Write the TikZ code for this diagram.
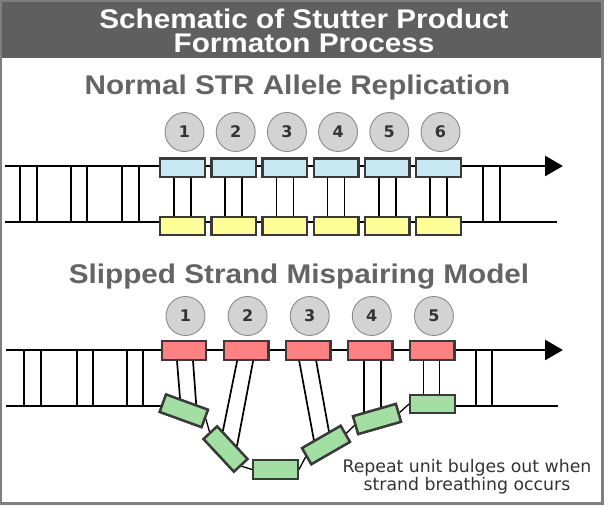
\documentclass[tikz,border=0pt]{standalone}
\usepackage{fontspec}
\setmainfont{DejaVu Sans}
\newfontfamily\titlefont[FakeStretch=1.1]{Liberation Sans}
\usetikzlibrary{arrows.meta,calc}
\definecolor{band}{HTML}{5F5F5F}
\definecolor{framegray}{HTML}{7F7F7F}
\definecolor{subgray}{HTML}{646464}
\definecolor{circfill}{HTML}{D3D3D3}
\definecolor{circedge}{HTML}{8A8A8A}
\definecolor{boxedge}{HTML}{3A3A3A}
\definecolor{numcol}{HTML}{333333}
\definecolor{bluefill}{HTML}{C6E9F4}
\definecolor{yellowfill}{HTML}{FFFF99}
\definecolor{redfill}{HTML}{FF8080}
\definecolor{greenfill}{HTML}{A3DFA3}
\begin{document}
\begin{tikzpicture}[x=1pt,y=-1pt,
  unit/.style={draw=boxedge, line width=2.4pt, minimum width=44.5pt, minimum height=18.5pt, inner sep=0pt},
  blueunit/.style={unit, fill=bluefill},
  yellowunit/.style={unit, fill=yellowfill},
  redunit/.style={unit, fill=redfill},
  greenunit/.style={unit, fill=greenfill},
  numcirc/.style={circle, draw=circedge, line width=0.9pt, fill=circfill, minimum size=39pt, inner sep=0pt,
    text=numcol, font=\fontsize{16}{16}\selectfont\bfseries},
  strand/.style={line width=2.7pt, black},
  arrowstrand/.style={strand, -{Triangle[length=18pt,width=20pt]}},
  rung/.style={line width=1.7pt, black},
  link/.style={line width=1.3pt, black},
  heading/.style={anchor=base, inner sep=0pt, text=subgray, font=\titlefont\bfseries\fontsize{27}{27}\selectfont},
  titletext/.style={anchor=north, inner sep=0pt, align=center, text=white, font=\titlefont\bfseries\fontsize{27}{24}\selectfont},
  caption/.style={anchor=base, inner sep=0pt, text=numcol, font=\fontsize{17.3}{17.3}\selectfont}
]
\useasboundingbox (0,0) rectangle (608,506);
% frame and title band
\fill[band] (0,0) rectangle (603,57.5);
\draw[framegray, line width=2.4pt] (1.2,1.2) rectangle (602.3,503.5);
\node[titletext] (title) at (304,8.5) {Schematic of Stutter Product\\Formaton Process};

% ================= Normal replication =================
\node[heading] (head1) at (297.5,94) {Normal STR Allele Replication};
\coordinate (ta1) at (5,166);
\coordinate (ta2) at (563,166);
\coordinate (ba1) at (5,222);
\coordinate (ba2) at (557,222);
\draw[arrowstrand] (ta1) -- (ta2);
\draw[strand] (ba1) -- (ba2);
\foreach \x in {20,37,71,87,122,139,483,500}
  \draw[rung] (\x,166) -- (\x,222);
\foreach \i in {1,...,6} {
  \pgfmathsetmacro{\cx}{182.5+51.2*(\i-1)}
  \node[blueunit] (b\i) at (\cx,167.8) {};
  \node[yellowunit] (y\i) at (\cx,226) {};
  \node[numcirc] (n\i) at (\cx+2,132) {\i};
  \draw[rung] ([xshift=-8.5pt]b\i.south) -- ([xshift=-8.5pt]y\i.north);
  \draw[rung] ([xshift=8.5pt]b\i.south) -- ([xshift=8.5pt]y\i.north);
}

% ================= Slipped strand =================
\node[heading] (head2) at (299,283) {Slipped Strand Mispairing Model};
\coordinate (tb1) at (6,350);
\coordinate (tb2) at (563,350);
\coordinate (bb1) at (6,406);
\coordinate (bb2) at (166,406);
\coordinate (bb3) at (558,406);
\draw[arrowstrand] (tb1) -- (tb2);
\foreach \x in {24,41,77,93,127,143,476,492}
  \draw[rung] (\x,350) -- (\x,406);

% green (bulging) units: placed first to get anchors
\node[greenunit, rotate=-20] (g1) at (183.8,410.8) {};
\node[greenunit, rotate=-47] (g2) at (225.5,449) {};
\node[greenunit] (g3) at (275.5,469.5) {};
\node[greenunit, rotate=30] (g4) at (326,445) {};
\node[greenunit, rotate=16] (g5) at (377,419) {};
\node[greenunit] (g6) at (432.5,404) {};

% strand links, then the units redrawn on top
\draw[strand] (bb1) -- (bb2);
\draw[strand] (g6.center |- bb3) -- (bb3);
\draw[link] (g1.east) -- (g2.west);
\draw[link] (g2.east) -- (g3.west);
\draw[link] (g3.east) -- (g4.west);
\draw[link] (g4.east) -- (g5.west);
\draw[link] (g5.east) -- (g6.west);
\node[greenunit, rotate=-20] at (g1) {};
\node[greenunit, rotate=-47] at (g2) {};
\node[greenunit] at (g3) {};
\node[greenunit, rotate=30] at (g4) {};
\node[greenunit, rotate=16] at (g5) {};
\node[greenunit] at (g6) {};

\foreach \i in {1,...,5} {
  \pgfmathsetmacro{\cx}{184+62.1*(\i-1)}
  \node[redunit] (r\i) at (\cx,350.5) {};
  \node[numcirc] (m\i) at (\cx+1.5,316) {\i};
}

% rungs to the bulge
\draw[rung] ([xshift=-7pt]r1.south) -- ($(g1.north west)!0.333!(g1.north east)$);
\draw[rung] ([xshift=9pt]r1.south) -- ($(g1.north west)!0.70!(g1.north east)$);
\draw[rung] ([xshift=-9pt]r2.south) -- ($(g2.north west)!0.18!(g2.north east)$);
\draw[rung] ([xshift=7pt]r2.south) -- ($(g2.north west)!0.62!(g2.north east)$);
\draw[rung] ([xshift=-9pt]r3.south) -- ($(g4.north west)!0.33!(g4.north east)$);
\draw[rung] ([xshift=8pt]r3.south) -- ($(g4.north west)!0.70!(g4.north east)$);
\coordinate (p41) at ($(g5.north west)!0.28!(g5.north east)$);
\coordinate (p42) at ($(g5.north west)!0.66!(g5.north east)$);
\draw[rung] (p41 |- r4.south) -- (p41);
\draw[rung] (p42 |- r4.south) -- (p42);
\draw[rung] ([xshift=-9pt]r5.south) -- ([xshift=-9pt]r5.south |- g6.north);
\draw[rung] ([xshift=7pt]r5.south) -- ([xshift=7pt]r5.south |- g6.north);

\node[caption] (cap1) at (467,472) {Repeat unit bulges out when};
\node[caption] (cap2) at (467,490) {strand breathing occurs};
\end{tikzpicture}
\end{document}
